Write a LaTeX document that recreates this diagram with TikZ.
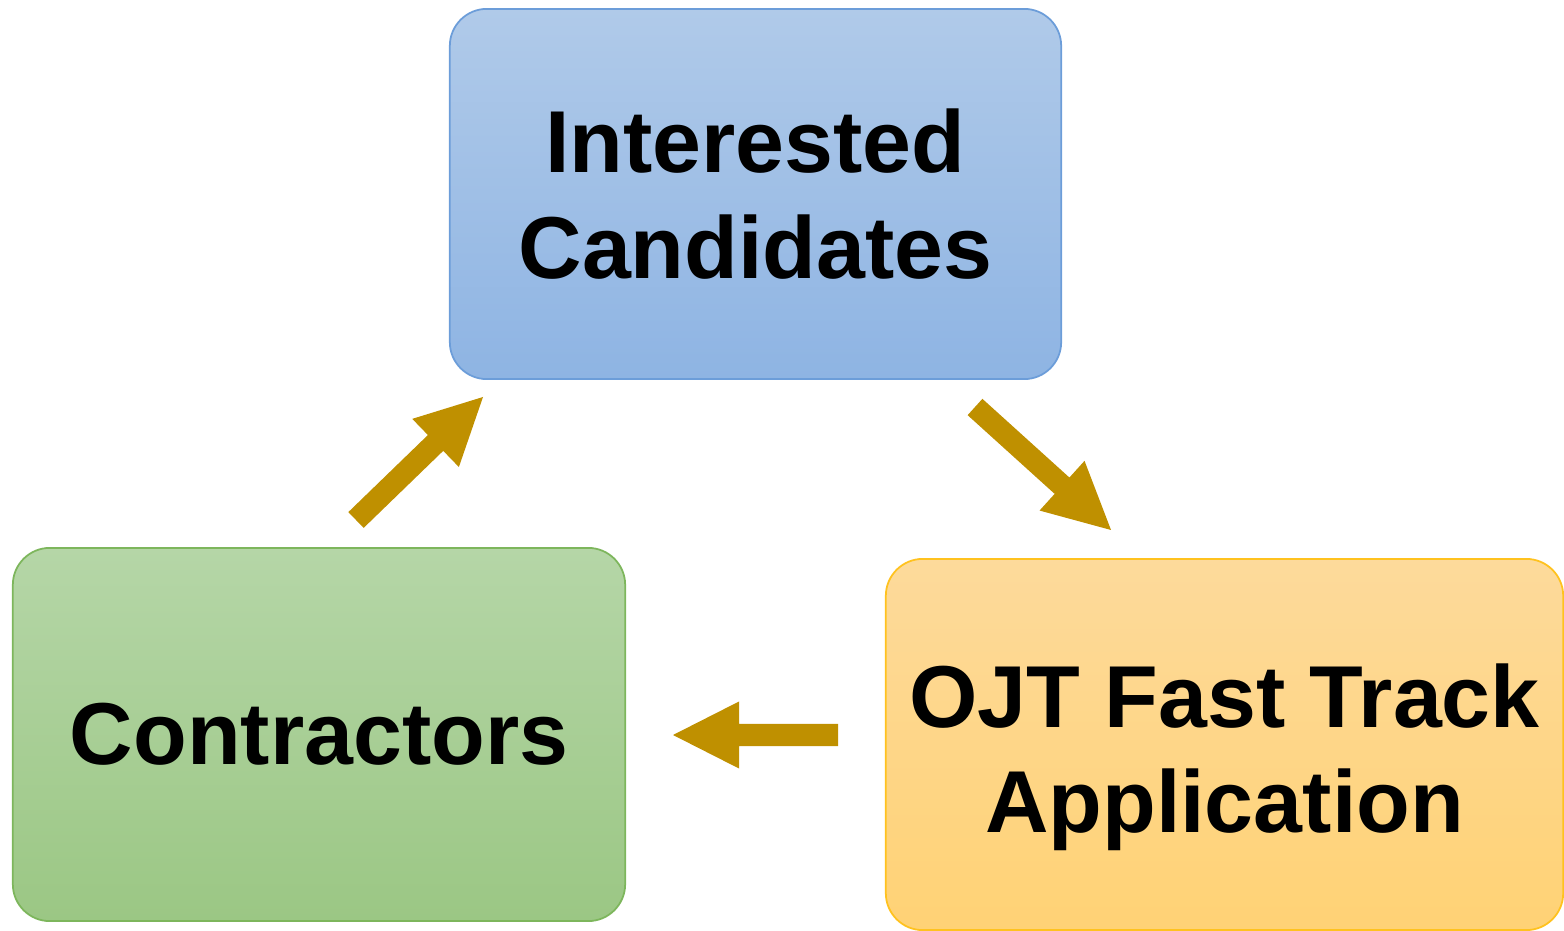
\documentclass[tikz,border=0pt]{standalone}
\usepackage{fontspec}
\setmainfont{Liberation Sans}
\usetikzlibrary{calc}
\definecolor{arrowgold}{HTML}{BF9000}
\definecolor{bluetop}{HTML}{B0CAE9}
\definecolor{bluebot}{HTML}{8EB4E3}
\definecolor{blueline}{HTML}{6C9DD9}
\definecolor{greentop}{HTML}{B5D6A7}
\definecolor{greenbot}{HTML}{9BC784}
\definecolor{greenline}{HTML}{7DB65C}
\definecolor{orangetop}{HTML}{FDDA9B}
\definecolor{orangebot}{HTML}{FFD275}
\definecolor{orangeline}{HTML}{FFC21F}
\newcommand\blockarr[2]{%
  \coordinate (#1-h) at ($(#2)!0.66cm!(#1)$);
  \fill[arrowgold] ($(#1)!0.11cm!90:(#2)$) -- ($(#1-h)!0.11cm!90:(#2)$)
    -- ($(#1-h)!0.335cm!90:(#2)$) -- (#2) -- ($(#1-h)!0.335cm!-90:(#2)$)
    -- ($(#1-h)!0.11cm!-90:(#2)$) -- ($(#1)!0.11cm!-90:(#2)$) -- cycle;
}
\begin{document}
\begin{tikzpicture}[x=0.01cm,y=-0.01cm,
  lbl/.style={align=center, inner sep=0pt, font=\bfseries\fontsize{25}{30}\selectfont},
  box/.style={rounded corners=0.37cm, line width=0.5pt, lbl},
  bluebox/.style={box, draw=blueline, top color=bluetop, bottom color=bluebot},
  greenbox/.style={box, draw=greenline, top color=greentop, bottom color=greenbot},
  orangebox/.style={box, draw=orangeline, top color=orangetop, bottom color=orangebot}]
\useasboundingbox (0,0) rectangle (1564,931);
\node[bluebox, minimum width=6.11cm, minimum height=3.70cm] (cand) at (755.5,194) {Interested\\Candidates};
\node[greenbox, minimum width=6.12cm, minimum height=3.73cm] (contr) at (319,734.5) {Contractors};
\node[orangebox, minimum width=6.77cm, minimum height=3.71cm] (ojt) at (1224.5,744.5) {};
\node[lbl] (ojtlabel) at ([yshift=-0.13cm]ojt.center) {OJT Fast Track\\Application};
\coordinate (a1) at (356,520);
\coordinate (b1) at (483,397);
\coordinate (a2) at (975,407);
\coordinate (b2) at (1111,530);
\coordinate (a3) at (838,735);
\coordinate (b3) at (673,735);
\blockarr{a1}{b1}
\blockarr{a2}{b2}
\blockarr{a3}{b3}
\end{tikzpicture}
\end{document}
